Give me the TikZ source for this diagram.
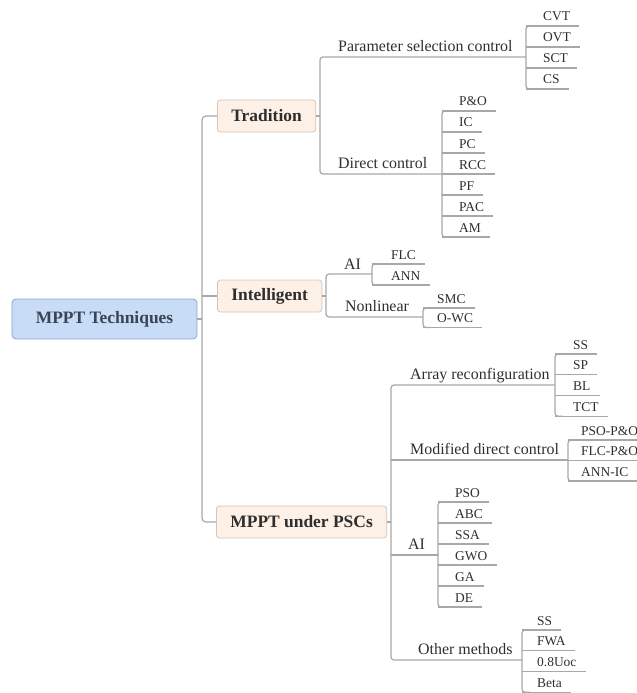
\documentclass[tikz,border=0pt]{standalone}
\usepackage{fontspec}
\setmainfont{Liberation Serif}
\usetikzlibrary{calc}
\definecolor{linecol}{HTML}{A8A8A8}
\definecolor{txtcol}{HTML}{2E2E2E}
\definecolor{rootfill}{HTML}{C8DCF8}
\definecolor{rootdraw}{HTML}{8AA6D0}
\definecolor{rootTxt}{HTML}{3A4552}
\definecolor{subfill}{HTML}{FDF0E6}
\definecolor{subdraw}{HTML}{D6C4B6}
\tikzset{
  conn/.style={draw=linecol, line width=1.2bp},
  leafnode/.style={inner sep=0pt, text=txtcol, font=\fontsize{13.5}{15}\selectfont, anchor=base west},
  midnode/.style={inner sep=0pt, text=txtcol, font=\fontsize{16}{18}\selectfont, anchor=base west},
  subnode/.style={draw=subdraw, fill=subfill, line width=0.8bp, rounded corners=3bp, inner xsep=14bp,
    minimum height=32bp, text=txtcol, font=\fontsize{17.5}{20}\selectfont\bfseries, anchor=west},
  rootnode/.style={draw=rootdraw, fill=rootfill, line width=0.8bp, rounded corners=4bp,
    minimum width=185bp, minimum height=40bp, text=rootTxt, font=\fontsize{17.5}{20}\selectfont\bfseries}
}
% #1 prefix, #2 bracket x, #3 text offset, #4 first underline y, #5 step, #6 labels
\newcommand\leafgrp[6]{%
  \foreach \lab [count=\n] in {#6}{\xdef\lastn{\n}}%
  \pgfmathsetmacro\ylast{#4+(\lastn-1)*#5}%
  \coordinate (#1top) at (#2,#4);
  \coordinate (#1bot) at (#2,\ylast);
  \foreach \lab [count=\i from 0] in {#6}{%
    \pgfmathsetmacro\uy{#4+\i*#5}%
    \node[leafnode] (#1\i) at (#2+#3,\uy-5) {\lab};
    \coordinate (#1u\i) at (#2,\uy);
    \draw[conn] (#1u\i) -- ($(#1\i.east |- #1u\i)+(9,0)$);
  }
  \draw[conn, rounded corners=3bp] ($(#1top)+(8,0)$) -- (#1top) -- (#1bot) -- ($(#1bot)+(8,0)$);
}
\begin{document}
\begin{tikzpicture}[x=1bp,y=-1bp]
\useasboundingbox (0,0) rectangle (637,693);
\clip (0,0) rectangle (637,693);

% main nodes
\node[rootnode] (root) at (104.5,319) {MPPT Techniques};
\node[subnode] (trad) at (217,116) {Tradition};
\node[subnode] (intl) at (217,296) {Intelligent};
\node[subnode] (psc) at (216,522) {MPPT under PSCs};

% root bus
\coordinate (rbus) at (202,319);
\draw[conn, rounded corners=4bp] (trad.west) -- (trad.west -| rbus) -- (psc.west -| rbus) -- (psc.west);
\draw[conn] (root.east) -- (rbus);
\draw[conn] (intl.west -| rbus) -- (intl.west);

% Tradition
\coordinate (tbus) at (320,116);
\draw[conn] (trad.east) -- (tbus);
\node[midnode] (psel) at (338,51.5) {Parameter selection control};
\node[midnode] (dctl) at (338,168.5) {Direct control};
\coordinate (pselj) at (526,57);
\coordinate (dctlj) at (442,174);
\draw[conn, rounded corners=3bp] (pselj) -- (pselj -| tbus) -- (dctlj -| tbus) -- (dctlj);
\leafgrp{pa}{526}{17}{26}{21}{CVT,OVT,SCT,CS}
\leafgrp{dc}{442}{17}{111}{21}{P\&O,IC,PC,RCC,PF,PAC,AM}

% Intelligent
\coordinate (ibus) at (326,296);
\draw[conn] (intl.east) -- (ibus);
\node[midnode] (iai) at (344,269.5) {AI};
\node[midnode] (inl) at (345,311.5) {Nonlinear};
\coordinate (iaij) at (372,274);
\coordinate (inlj) at (423,317);
\draw[conn, rounded corners=3bp] (iaij) -- (iaij -| ibus) -- (inlj -| ibus) -- (inlj);
\leafgrp{ia}{372}{19}{264}{21}{FLC,ANN}
\leafgrp{nl}{423}{14}{308}{19.5}{SMC,O-WC}

% MPPT under PSCs
\coordinate (pbus) at (391,522);
\draw[conn] (psc.east) -- (pbus);
\node[midnode] (arr) at (410,379.5) {Array reconfiguration};
\node[midnode] (mod) at (410,454.5) {Modified direct control};
\node[midnode] (pai) at (408,549.5) {AI};
\node[midnode] (oth) at (418,654.5) {Other methods};
\coordinate (arrj) at (555,385);
\coordinate (modj) at (568,460);
\coordinate (paij) at (438,555);
\coordinate (othj) at (522,660);
\draw[conn, rounded corners=3bp] (arrj) -- (arrj -| pbus) -- (othj -| pbus) -- (othj);
\draw[conn] (modj -| pbus) -- (modj);
\draw[conn] (paij -| pbus) -- (paij);
\leafgrp{ar}{555}{18}{354}{20.7}{SS,SP,BL,TCT}
\leafgrp{md}{568}{13}{440}{20.5}{PSO-P\&O,FLC-P\&O,ANN-IC}
\leafgrp{ps}{438}{17}{502}{21}{PSO,ABC,SSA,GWO,GA,DE}
\leafgrp{ot}{522}{15}{630}{20.7}{SS,FWA,0.8Uoc,Beta}
\end{tikzpicture}
\end{document}
